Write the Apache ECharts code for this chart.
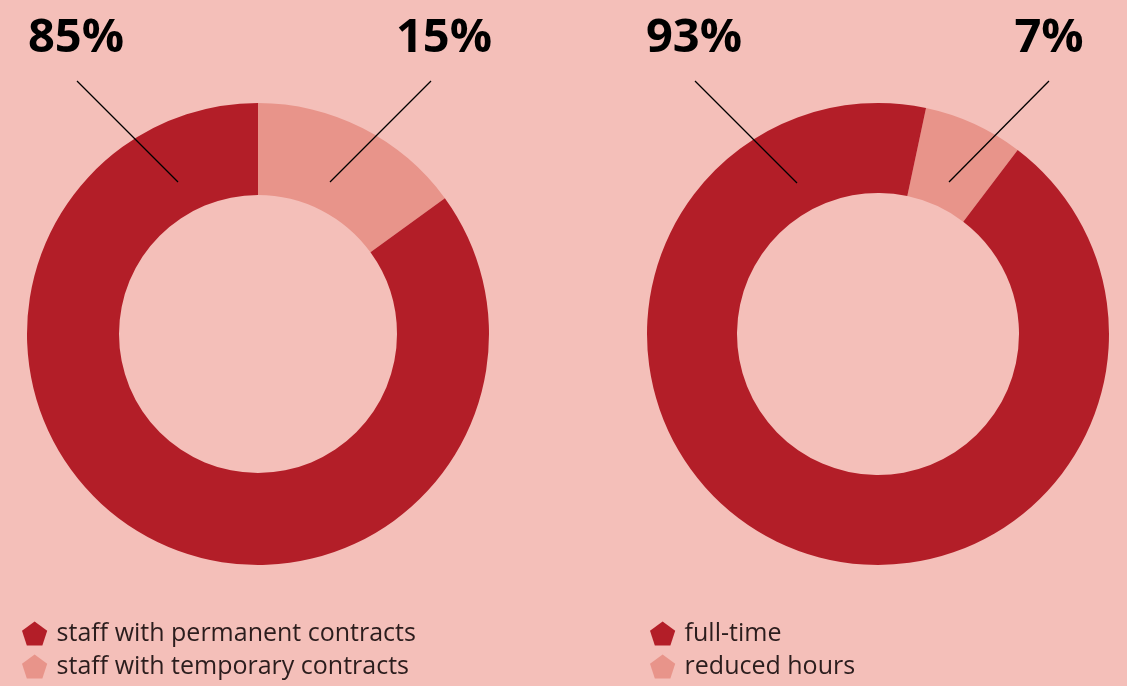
<!DOCTYPE html>
<html>
<head>
<meta charset="utf-8">
<style>
  html, body { margin: 0; padding: 0; background: #f4bfb9; }
  #chart { width: 1127px; height: 686px; }
</style>
<script src="https://cdn.jsdelivr.net/npm/echarts@6/dist/echarts.min.js"></script>
</head>
<body>
<div id="chart"></div>
<script>
// Contract type split
const contractNames = ['staff with permanent contracts', 'staff with temporary contracts'];
const contractShares = [85, 15];

// Working time split
const hoursNames = ['full-time', 'reduced hours'];
const hoursShares = [93, 7];

const DARK = '#b31e28';
const LIGHT = '#e8948a';
const PENTAGON = 'path://M12.5,0 L25,9.1 L20.2,23.8 L4.8,23.8 L0,9.1 Z';

const chart = echarts.init(document.getElementById('chart'), null, { renderer: 'canvas' });

function pieSeries(names, values, center, radius, startAngle) {
  // smaller share drawn first so it sits clockwise from the start angle
  return {
    type: 'pie',
    center: center,
    radius: radius,
    startAngle: startAngle,
    clockwise: true,
    silent: true,
    animation: false,
    z: 1,
    label: { show: false },
    labelLine: { show: false },
    itemStyle: { borderWidth: 0 },
    data: [
      { name: names[1], value: values[1], itemStyle: { color: LIGHT } },
      { name: names[0], value: values[0], itemStyle: { color: DARK } }
    ]
  };
}

function legend(names, left) {
  return {
    orient: 'vertical',
    left: left,
    top: 621,
    padding: 0,
    itemWidth: 26,
    itemHeight: 24,
    itemGap: 8,
    icon: PENTAGON,
    selectedMode: false,
    data: names,
    textStyle: {
      fontFamily: '"Open Sans"',
      fontSize: 25,
      fontWeight: 'normal',
      color: '#2b1d1d',
      padding: [0, 0, 0, 4]
    }
  };
}

// percentage callouts: text anchor and pointer line into the ring
const callouts = [
  { value: contractShares[0], tx: 76,   line: [77, 81, 178, 182] },
  { value: contractShares[1], tx: 444,  line: [431, 81, 330, 182] },
  { value: hoursShares[0],    tx: 694,  line: [695, 81, 797, 183] },
  { value: hoursShares[1],    tx: 1049, line: [1049, 81, 949, 182] }
];

const graphics = [];
callouts.forEach(c => {
  graphics.push({
    type: 'text',
    x: c.tx,
    y: 39,
    z: 100,
    silent: true,
    style: {
      text: c.value + '%',
      fontFamily: '"Open Sans"',
      fontWeight: 'bold',
      fontSize: 47,
      fill: '#000',
      align: 'center',
      verticalAlign: 'middle'
    }
  });
  graphics.push({
    type: 'line',
    z: 100,
    silent: true,
    shape: { x1: c.line[0], y1: c.line[1], x2: c.line[2], y2: c.line[3] },
    style: { stroke: '#000', lineWidth: 1.3 }
  });
});

chart.setOption({
  backgroundColor: '#f4bfb9',
  animation: false,
  legend: [legend(contractNames, 22), legend(hoursNames, 650)],
  series: [
    pieSeries(contractNames, contractShares, [258, 334], [139, 231], 90),
    pieSeries(hoursNames, hoursShares, [878, 334], [141, 231], 78)
  ],
  graphic: graphics
});
</script>
</body>
</html>
